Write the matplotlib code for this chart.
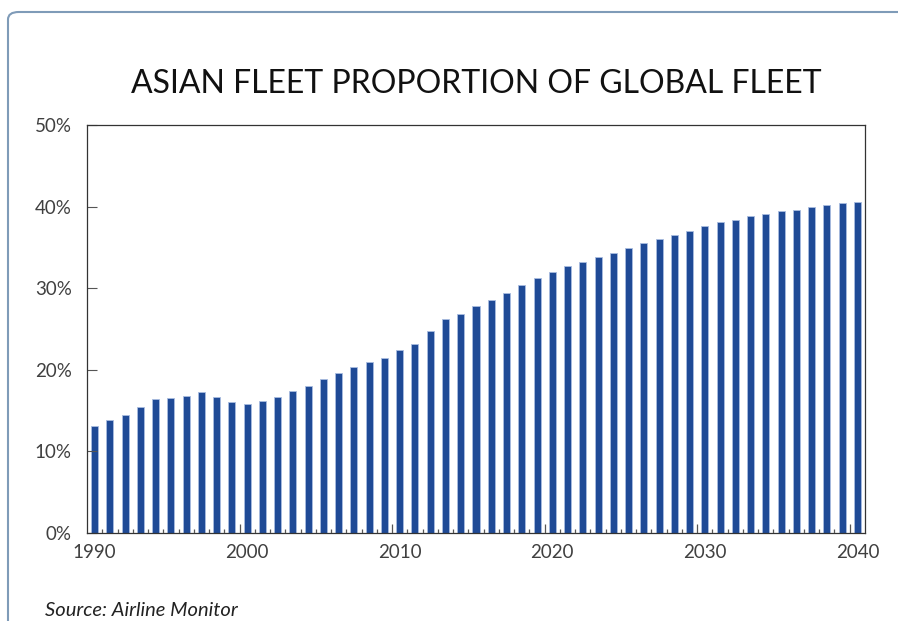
import matplotlib
matplotlib.use("Agg")
import matplotlib.pyplot as plt
from matplotlib.patches import FancyBboxPatch
import numpy as np

years = list(range(1990, 2041))
# Asian share of global fleet, %
share = [13.1, 13.8, 14.5, 15.5, 16.4, 16.5, 16.8, 17.3, 16.7, 16.05,
         15.8, 16.2, 16.7, 17.4, 18.0, 18.9, 19.6, 20.4, 20.9, 21.5,
         22.4, 23.2, 24.7, 26.2, 26.8, 27.8, 28.6, 29.4, 30.4, 31.2,
         32.0, 32.7, 33.2, 33.8, 34.35, 34.9, 35.6, 36.0, 36.5, 37.0,
         37.6, 38.1, 38.4, 38.8, 39.1, 39.4, 39.6, 39.9, 40.2, 40.4, 40.6]
label_years = [1990, 2000, 2010, 2020, 2030, 2040]
y_ticks = [0, 10, 20, 30, 40, 50]

plt.rcParams['font.family'] = ['Lato', 'DejaVu Sans']

fig = plt.figure(figsize=(8.98, 6.21), dpi=100)

# rounded outer frame, clipped by the image on the right and bottom
frame = FancyBboxPatch((8 / 898, -0.05), 1.2, 1 - 12 / 621 + 0.05,
                       boxstyle="round,pad=0,rounding_size=0.012",
                       transform=fig.transFigure, fill=False,
                       edgecolor='#7f9bb8', linewidth=1.5)
fig.patches.append(frame)

ax = fig.add_axes([87 / 898, 1 - 533 / 621, (865 - 87) / 898, (533 - 125) / 621])

x = np.arange(len(years))
ax.bar(x, share, width=0.46, color='#1f4a96', edgecolor='#a9bde0', linewidth=0.6)

ax.set_xlim(-0.5, len(years) - 0.5)
ax.set_ylim(0, 50)

ax.set_yticks(y_ticks)
ax.set_yticklabels([f"{v}%" for v in y_ticks])
ax.set_xticks([years.index(y) for y in label_years])
ax.set_xticklabels([str(y) for y in label_years])

# label ticks carry no marks; boundary ticks drawn separately
ax.tick_params(axis='x', length=0, pad=8, labelsize=13.5, labelcolor='#404040')
ax.tick_params(axis='y', direction='in', length=7.5, width=0.8, color='#555555',
               pad=11, labelsize=13.5, labelcolor='#404040')

bounds = np.arange(len(years) - 1) + 0.5
major_b = [b for b in bounds if int(b + 0.5) % 10 == 0]
minor_b = [b for b in bounds if int(b + 0.5) % 10 != 0]
ax.vlines(minor_b, 0, 0.55, color='#555555', linewidth=0.9, zorder=3)
ax.vlines(major_b, 0, 1.15, color='#555555', linewidth=0.9, zorder=3)

for s in ax.spines.values():
    s.set_color('#333333')
    s.set_linewidth(0.9)

fig.text(476 / 898, 1 - 84 / 621, "ASIAN FLEET PROPORTION OF GLOBAL FLEET",
         ha='center', va='center', fontsize=23, color='#111111')
fig.text(45 / 898, 1 - 610 / 621, "Source: Airline Monitor", ha='left', va='center',
         fontsize=14.5, style='italic', color='#222222')

fig.savefig("out.png", dpi=100)
